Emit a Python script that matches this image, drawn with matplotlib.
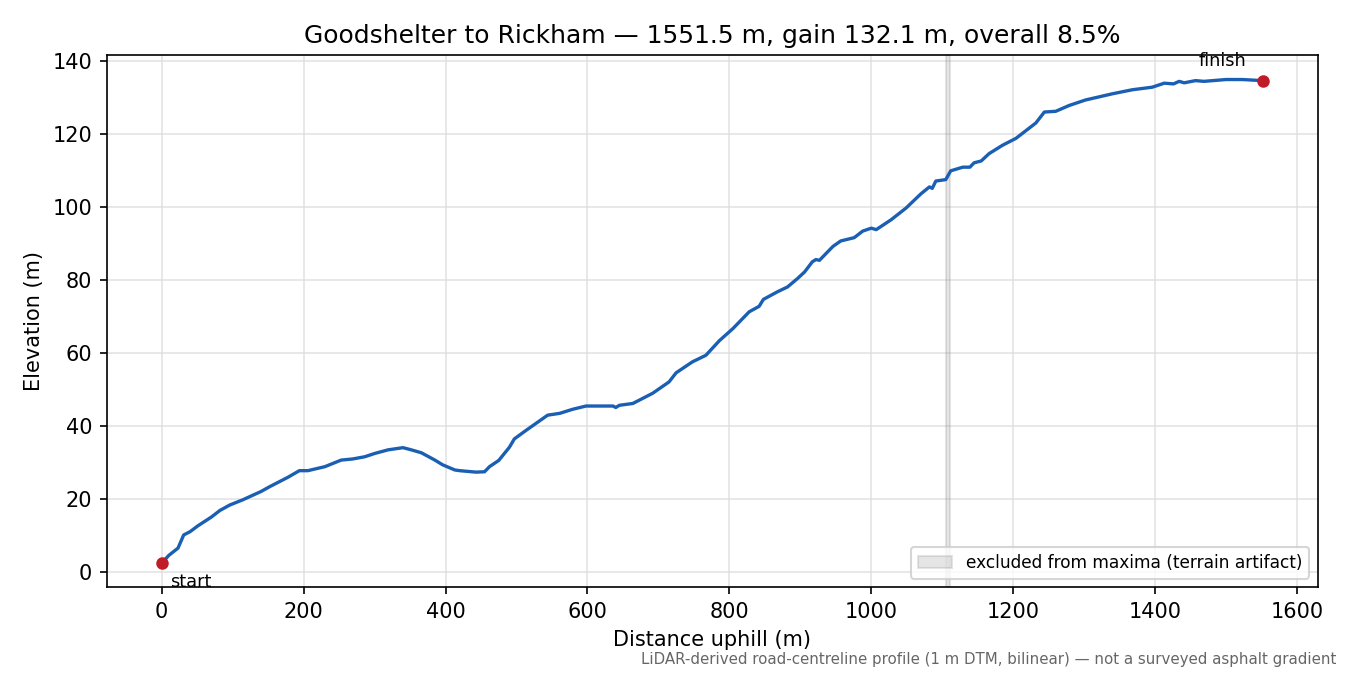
import matplotlib
matplotlib.use("Agg")
import matplotlib.pyplot as plt

dist = [0, 10, 23, 31, 40, 51, 70, 82, 96, 114, 140, 152, 178, 194, 206, 230, 253, 269, 286, 300,
        319, 340, 350, 366, 385, 396, 413, 420, 443, 455, 462, 475, 490, 497, 514, 544, 561, 579,
        598, 636, 640, 645, 664, 692, 715, 725, 748, 767, 786, 805, 828, 842, 848, 868, 882, 896,
        906, 917, 922, 927, 934, 946, 957, 976, 988, 1000, 1007, 1028, 1049, 1070, 1082, 1086,
        1091, 1105, 1112, 1129, 1139, 1145, 1155, 1166, 1185, 1204, 1232, 1244, 1260, 1279, 1302,
        1340, 1368, 1396, 1413, 1426, 1434, 1441, 1457, 1469, 1500, 1523, 1551.5]
elev = [2.4, 4.5, 6.5, 10.1, 11.0, 12.6, 15.0, 16.8, 18.3, 19.7, 22.0, 23.3, 25.9, 27.7, 27.7,
        28.8, 30.6, 30.9, 31.5, 32.4, 33.4, 34.0, 33.5, 32.6, 30.6, 29.3, 27.9, 27.7, 27.3, 27.4,
        28.8, 30.5, 34.1, 36.4, 38.8, 42.9, 43.4, 44.5, 45.4, 45.4, 45.0, 45.6, 46.1, 48.9, 52.0,
        54.5, 57.5, 59.3, 63.3, 66.6, 71.2, 72.7, 74.6, 76.7, 78.0, 80.3, 82.1, 84.9, 85.5, 85.3,
        86.7, 89.1, 90.6, 91.5, 93.3, 94.1, 93.7, 96.4, 99.6, 103.5, 105.4, 105.0, 107.0, 107.4,
        109.8, 110.8, 110.8, 112.0, 112.5, 114.5, 116.8, 118.7, 122.9, 125.9, 126.1, 127.7, 129.2,
        130.9, 132.0, 132.7, 133.8, 133.6, 134.3, 133.9, 134.5, 134.3, 134.8, 134.8, 134.5]
excluded = [1105, 1111]
title = "Goodshelter to Rickham \u2014 1551.5 m, gain 132.1 m, overall 8.5%"
footnote = "LiDAR-derived road-centreline profile (1 m DTM, bilinear) \u2014 not a surveyed asphalt gradient"

assert len(dist) == len(elev)

fig, ax = plt.subplots(figsize=(9, 4.5), dpi=150)
fig.subplots_adjust(left=0.079, right=0.976, top=0.918, bottom=0.130)

ax.axvspan(excluded[0], excluded[1], color="grey", alpha=0.2,
           label="excluded from maxima (terrain artifact)")
ax.plot(dist, elev, color="#1a5fb4", lw=1.6)
ax.plot([dist[0], dist[-1]], [elev[0], elev[-1]], "o", color="#c01c28", ms=5, zorder=5)
ax.annotate("start", (dist[0], elev[0]), xytext=(4, -5), textcoords="offset points",
            ha="left", va="top", fontsize=8.5)
ax.annotate("finish", (dist[-1], elev[-1]), xytext=(-8, 5), textcoords="offset points",
            ha="right", va="bottom", fontsize=8.5)

ax.grid(True, color="#dddddd", lw=0.8, alpha=0.8)
ax.set_axisbelow(True)
ax.set_xlabel("Distance uphill (m)")
ax.set_ylabel("Elevation (m)")
ax.set_title(title, fontsize=12)
ax.legend(loc="lower right", fontsize=8.2)
fig.text(0.99, 0.012, footnote, ha="right", va="bottom", fontsize=7.2, color="#666666")

fig.savefig("out.png", dpi=150)
